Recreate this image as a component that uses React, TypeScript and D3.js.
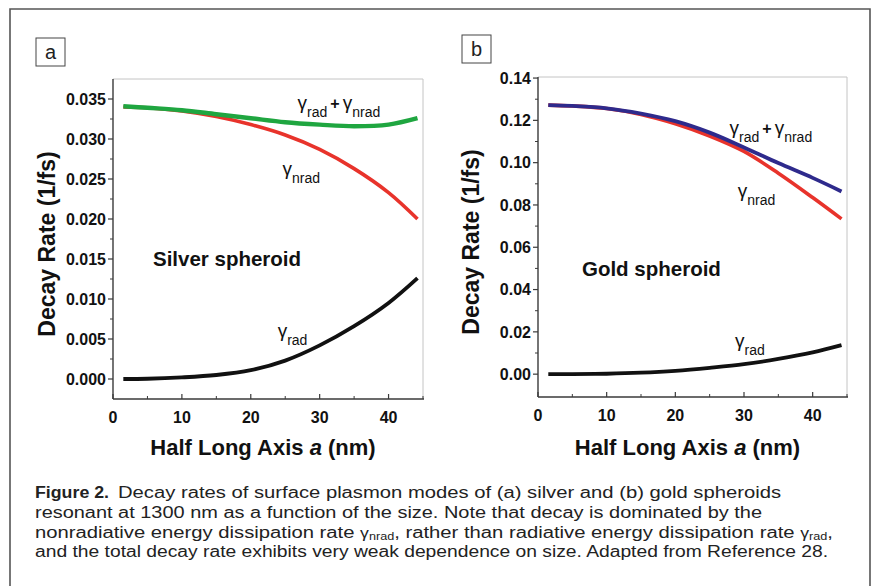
import React from "react";
import * as d3 from "d3";

// ---------- data ----------
const sizeNm = [1.5, 5, 10, 15, 20, 25, 30, 35, 40, 44.2];

const silverTotal = [0.0341, 0.0339, 0.0336, 0.0331, 0.0326, 0.0321, 0.0318, 0.0316, 0.0318, 0.0326];
const silverNrad = [0.034, 0.0339, 0.0335, 0.0328, 0.0318, 0.0305, 0.0287, 0.0263, 0.0233, 0.02];
const silverRad = [0, 0.00003, 0.0002, 0.0005, 0.0011, 0.0023, 0.0042, 0.0066, 0.0095, 0.0126];

const goldTotal = [0.1272, 0.1268, 0.1257, 0.1232, 0.1196, 0.1142, 0.1072, 0.0998, 0.0928, 0.0864];
const goldNrad = [0.1272, 0.1268, 0.1256, 0.1228, 0.1184, 0.1126, 0.1053, 0.095, 0.0835, 0.0734];
const goldRad = [0, 0, 0.0002, 0.0007, 0.0016, 0.003, 0.0047, 0.0072, 0.0103, 0.0137];

const xTicks = [0, 10, 20, 30, 40];
const xMinorTicks = [5, 15, 25, 35, 45];
const silverYTicks = [0, 0.005, 0.01, 0.015, 0.02, 0.025, 0.03, 0.035];
const goldYTicks = [0, 0.02, 0.04, 0.06, 0.08, 0.1, 0.12, 0.14];

const captionLines = [
  "resonant at 1300 nm as a function of the size. Note that decay is dominated by the",
  "and the total decay rate exhibits very weak dependence on size. Adapted from Reference 28.",
];

const FONT = "'Liberation Sans', Arial, Helvetica, sans-serif";
const NARROW = "'Liberation Sans Narrow', 'Arial Narrow', 'Liberation Sans', Arial, sans-serif";

type Series = { values: number[]; color: string; width: number };

function Gamma({ x, y, parts }: { x: number; y: number; parts: { sub: string }[] }) {
  const kids: any[] = [];
  parts.forEach((p, i) => {
    if (i > 0) {
      kids.push(
        <tspan key={"p" + i} fontFamily={FONT} fontWeight="bold" fontSize={16} dx={3} dy={-8}>
          +
        </tspan>
      );
    }
    kids.push(
      <tspan key={"g" + i} dx={i > 0 ? 3 : 0}>
        γ
      </tspan>
    );
    kids.push(
      <tspan key={"s" + i} fontSize={14} dy={8}>
        {p.sub}
      </tspan>
    );
  });
  return (
    <text x={x} y={y} fontFamily={NARROW} fontSize={19} fill="#111">
      {kids}
    </text>
  );
}

function Panel(props: {
  letter: string;
  box: [number, number];
  left: number;
  right: number;
  top: number;
  bottom: number;
  yDomain: [number, number];
  yTicks: number[];
  yMinor: number[];
  yFmt: string;
  series: Series[];
  labels: { x: number; y: number; parts: { sub: string }[] }[];
  species: { x: number; y: number; text: string };
  yTitleX: number;
}) {
  const { left, right, top, bottom } = props;
  const x = d3.scaleLinear().domain([0, 45]).range([left, right]);
  const y = d3.scaleLinear().domain(props.yDomain).range([bottom, top]);
  const line = d3
    .line<number>()
    .x((_, i) => x(sizeNm[i]))
    .y((d) => y(d))
    .curve(d3.curveCatmullRom.alpha(0.5));
  const fmt = d3.format(props.yFmt);
  const axisColor = "#3a3a3a";
  return (
    <g>
      {/* panel letter */}
      <rect x={props.box[0]} y={props.box[1]} width={29} height={28} fill="none" stroke="#444" strokeWidth={1} />
      <text x={props.box[0] + 14.5} y={props.box[1] + 21} textAnchor="middle" fontFamily={FONT} fontSize={20} fill="#222">
        {props.letter}
      </text>
      {/* frame */}
      <line x1={left} x2={right} y1={top} y2={top} stroke="#c4c4c4" strokeWidth={1} />
      <line x1={right} x2={right} y1={top} y2={bottom} stroke="#c4c4c4" strokeWidth={1} />
      {/* curves */}
      {props.series.map((s, i) => (
        <path key={i} d={line(s.values) || ""} fill="none" stroke={s.color} strokeWidth={s.width} />
      ))}
      {/* axes */}
      <line x1={left} x2={left} y1={top} y2={bottom} stroke={axisColor} strokeWidth={1.4} />
      <line x1={left} x2={right + 1} y1={bottom} y2={bottom} stroke={axisColor} strokeWidth={1.4} />
      {props.yTicks.map((t) => (
        <g key={"yt" + t}>
          <line x1={left - 5} x2={left} y1={y(t)} y2={y(t)} stroke={axisColor} strokeWidth={1.2} />
          <text x={left - 7} y={y(t)} dy="0.36em" textAnchor="end" fontFamily={FONT} fontWeight="bold" fontSize={16} fill="#111">
            {fmt(t)}
          </text>
        </g>
      ))}
      {props.yMinor.map((t) => (
        <line key={"ym" + t} x1={left - 3} x2={left} y1={y(t)} y2={y(t)} stroke={axisColor} strokeWidth={1} />
      ))}
      {xTicks.map((t) => (
        <g key={"xt" + t}>
          <line x1={x(t)} x2={x(t)} y1={bottom} y2={bottom - 5} stroke={axisColor} strokeWidth={1.2} />
          <text x={x(t)} y={bottom + 24} textAnchor="middle" fontFamily={FONT} fontWeight="bold" fontSize={16} fill="#111">
            {t}
          </text>
        </g>
      ))}
      {xMinorTicks.map((t) => (
        <line key={"xm" + t} x1={x(t)} x2={x(t)} y1={bottom} y2={bottom - 3} stroke={axisColor} strokeWidth={1} />
      ))}
      {/* titles */}
      <text
        transform={`translate(${props.yTitleX},${(top + bottom) / 2 + 5}) rotate(-90)`}
        textAnchor="middle"
        fontFamily={FONT}
        fontWeight="bold"
        fontSize={23}
        fill="#111"
      >
        Decay Rate (1/fs)
      </text>
      <text x={(left + right) / 2 - 5} y={455} textAnchor="middle" fontFamily={FONT} fontWeight="bold" fontSize={22} fill="#111">
        Half Long Axis <tspan fontStyle="italic">a</tspan> (nm)
      </text>
      {/* annotations */}
      <text x={x(props.species.x)} y={y(props.species.y)} fontFamily={FONT} fontWeight="bold" fontSize={20.5} fill="#111">
        {props.species.text}
      </text>
      {props.labels.map((l, i) => (
        <Gamma key={i} x={x(l.x)} y={y(l.y)} parts={l.parts} />
      ))}
    </g>
  );
}

export default function App() {
  return (
    <div style={{ position: "absolute", left: 0, top: 0 }}>
      <svg width={878} height={587} style={{ display: "block", background: "#fff" }}>
        {/* outer figure border */}
        <path d="M10,586 V9 H870 V586" fill="none" stroke="#555" strokeWidth={1.6} />

        <Panel
          letter="a"
          box={[36, 38]}
          left={113}
          right={423}
          top={79}
          bottom={399}
          yDomain={[-0.0025, 0.0375]}
          yTicks={silverYTicks}
          yMinor={[0.0025, 0.0075, 0.0125, 0.0175, 0.0225, 0.0275, 0.0325]}
          yFmt=".3f"
          series={[
            { values: silverNrad, color: "#e8332b", width: 3.6 },
            { values: silverTotal, color: "#1fa640", width: 4.4 },
            { values: silverRad, color: "#111111", width: 3.8 },
          ]}
          labels={[
            { x: 26.8, y: 0.0337, parts: [{ sub: "rad" }, { sub: "nrad" }] },
            { x: 24.6, y: 0.0255, parts: [{ sub: "nrad" }] },
            { x: 23.9, y: 0.00525, parts: [{ sub: "rad" }] },
          ]}
          species={{ x: 5.8, y: 0.0141, text: "Silver spheroid" }}
          yTitleX={55}
        />
        <Panel
          letter="b"
          box={[462, 35]}
          left={538}
          right={847}
          top={77}
          bottom={397}
          yDomain={[-0.0108, 0.1405]}
          yTicks={goldYTicks}
          yMinor={[0.01, 0.03, 0.05, 0.07, 0.09, 0.11, 0.13]}
          yFmt=".2f"
          series={[
            { values: goldNrad, color: "#e8332b", width: 3.6 },
            { values: goldTotal, color: "#2e2a8c", width: 3.8 },
            { values: goldRad, color: "#111111", width: 3.8 },
          ]}
          labels={[
            { x: 27.9, y: 0.1136, parts: [{ sub: "rad" }, { sub: "nrad" }] },
            { x: 29.1, y: 0.0837, parts: [{ sub: "nrad" }] },
            { x: 28.7, y: 0.0128, parts: [{ sub: "rad" }] },
          ]}
          species={{ x: 6.4, y: 0.0464, text: "Gold spheroid" }}
          yTitleX={479}
        />

        {/* caption */}
        <g fontFamily={FONT} fontSize={16} fill="#222">
          <text x={35} y={498} fontWeight="bold" textLength={74} lengthAdjust="spacingAndGlyphs">
            Figure 2.
          </text>
          <text x={118} y={498} textLength={663} lengthAdjust="spacingAndGlyphs">
            Decay rates of surface plasmon modes of (a) silver and (b) gold spheroids
          </text>
          <text x={35} y={518} textLength={727} lengthAdjust="spacingAndGlyphs">
            {captionLines[0]}
          </text>
          <text x={35} y={538} textLength={798} lengthAdjust="spacingAndGlyphs">
            nonradiative energy dissipation rate{" "}
            <tspan fontSize={14}>γ</tspan>
            <tspan fontSize={10} dy={2}>nrad</tspan>
            <tspan dy={-2}>, rather than radiative energy dissipation rate </tspan>
            <tspan fontSize={14}>γ</tspan>
            <tspan fontSize={10} dy={2}>rad</tspan>
            <tspan dy={-2}>,</tspan>
          </text>
          <text x={35} y={557} textLength={793} lengthAdjust="spacingAndGlyphs">
            {captionLines[1]}
          </text>
        </g>
      </svg>
    </div>
  );
}
